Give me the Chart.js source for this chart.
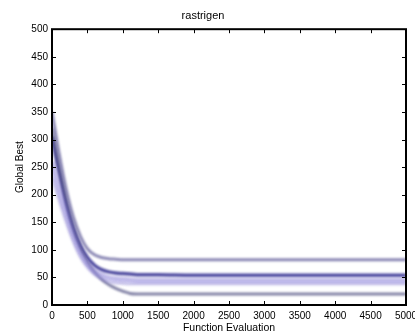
<!DOCTYPE html>
<html>
<head>
<meta charset="utf-8">
<script src="https://cdn.jsdelivr.net/npm/chart.js@4"></script>
<style>
  html, body { margin: 0; padding: 0; background: #fff; }
  #wrap { width: 415px; height: 334px; }
</style>
</head>
<body>
<div id="wrap"><canvas id="c" width="415" height="334"></canvas></div>
<script>
// function evaluations (x) and best value per run
const evals = [0, 100, 200, 300, 400, 500, 600, 700, 800, 900, 1000, 1100, 1200, 1500, 2000, 3000, 4000, 5000];
const run1 = [350, 275, 210, 160, 125, 102, 91, 86, 84, 83, 82, 82, 82, 82, 82, 82, 82, 82];
const run2 = [305, 242, 185, 140, 108, 86, 72, 64, 60, 58, 57, 56, 55, 55, 54, 54, 54, 54];
const run3 = [260, 212, 168, 128, 97, 76, 62, 55, 50, 48, 47, 46, 45, 45, 45, 45, 45, 45];
const run4 = [230, 190, 150, 115, 87, 68, 55, 47, 42, 40, 39, 38, 38, 38, 38, 38, 38, 38];
const run5 = [320, 248, 185, 138, 103, 78, 60, 47, 37, 30, 25, 21, 20, 20, 20, 20, 20, 20];
const xTicks = [0, 500, 1000, 1500, 2000, 2500, 3000, 3500, 4000, 4500, 5000];
const yTicks = [0, 50, 100, 150, 200, 250, 300, 350, 400, 450, 500];

const font = "'Liberation Sans', Arial, sans-serif";

function pts(vals) {
    return evals.map((x, i) => ({ x: x, y: vals[i] }));
}

// blur the lines a bit, like the smeared screenshot
const blurLines = {
    id: 'blurLines',
    beforeDatasetsDraw(chart) {
        chart.ctx.save();
        chart.ctx.filter = 'blur(1.2px)';
    },
    afterDatasetsDraw(chart) {
        chart.ctx.restore();
    }
};

// matlab style box with inward ticks on all sides
const boxTicks = {
    id: 'boxTicks',
    afterDraw(chart) {
        const ctx = chart.ctx;
        const a = chart.chartArea;
        const xs = chart.scales.x, ys = chart.scales.y;
        ctx.save();
        ctx.strokeStyle = '#000';
        ctx.lineWidth = 2;
        ctx.strokeRect(a.left, a.top, a.right - a.left, a.bottom - a.top);
        ctx.lineWidth = 1;
        ctx.beginPath();
        xTicks.forEach(v => {
            const px = Math.round(xs.getPixelForValue(v)) + 0.5;
            ctx.moveTo(px, a.bottom); ctx.lineTo(px, a.bottom - 4);
            ctx.moveTo(px, a.top); ctx.lineTo(px, a.top + 4);
        });
        yTicks.forEach(v => {
            const py = Math.round(ys.getPixelForValue(v)) + 0.5;
            ctx.moveTo(a.left, py); ctx.lineTo(a.left + 4, py);
            ctx.moveTo(a.right, py); ctx.lineTo(a.right - 4, py);
        });
        ctx.stroke();
        ctx.restore();
    }
};

new Chart(document.getElementById('c'), {
    type: 'line',
    data: {
        datasets: [
            { data: pts(run4), borderColor: 'rgba(120, 110, 200, 0.35)', borderWidth: 3, fill: false },
            { data: pts(run3), borderColor: 'rgba(130, 120, 210, 0.45)', borderWidth: 5, backgroundColor: 'rgba(185, 180, 240, 0.35)', fill: '-1' },
            { data: pts(run5), borderColor: 'rgba(80, 80, 130, 0.7)', borderWidth: 3, fill: false },
            { data: pts(run1), borderColor: 'rgba(90, 85, 150, 0.7)', borderWidth: 3, fill: false },
            { data: pts(run2), borderColor: 'rgba(60, 55, 150, 0.9)', borderWidth: 3.5, fill: false }
        ]
    },
    options: {
        responsive: false,
        animation: false,
        elements: {
            point: { radius: 0 },
            line: { tension: 0.35 }
        },
        layout: { padding: { left: 0, right: 9, top: 0, bottom: 0 } },
        plugins: {
            legend: { display: false },
            tooltip: { enabled: false },
            title: {
                display: true,
                text: 'rastrigen',
                color: '#000',
                font: { family: font, size: 11, weight: 'normal' },
                padding: { top: 9, bottom: 7 }
            }
        },
        scales: {
            x: {
                type: 'linear',
                min: 0,
                max: 5000,
                afterBuildTicks: s => { s.ticks = xTicks.map(v => ({ value: v })); },
                afterFit: s => { s.height = 29; s.paddingLeft = 0; s.paddingRight = 0; },
                grid: { display: false, drawTicks: false, tickLength: 0 },
                border: { display: false },
                ticks: {
                    color: '#000',
                    padding: 5,
                    maxRotation: 0,
                    autoSkip: false,
                    callback: v => String(v),
                    font: { family: font, size: 10 }
                },
                title: {
                    display: true,
                    text: 'Function Evaluation',
                    color: '#000',
                    padding: { top: 0, bottom: 0 },
                    font: { family: font, size: 10.5 }
                }
            },
            y: {
                min: 0,
                max: 500,
                afterBuildTicks: s => { s.ticks = yTicks.map(v => ({ value: v })); },
                afterFit: s => { s.width = 52; },
                grid: { display: false, drawTicks: false, tickLength: 0 },
                border: { display: false },
                ticks: {
                    color: '#000',
                    padding: 4,
                    autoSkip: false,
                    callback: v => String(v),
                    font: { family: font, size: 10 }
                },
                title: {
                    display: true,
                    text: 'Global Best',
                    color: '#000',
                    padding: { top: 14, bottom: 0 },
                    font: { family: font, size: 10 }
                }
            }
        }
    },
    plugins: [blurLines, boxTicks]
});
</script>
</body>
</html>
